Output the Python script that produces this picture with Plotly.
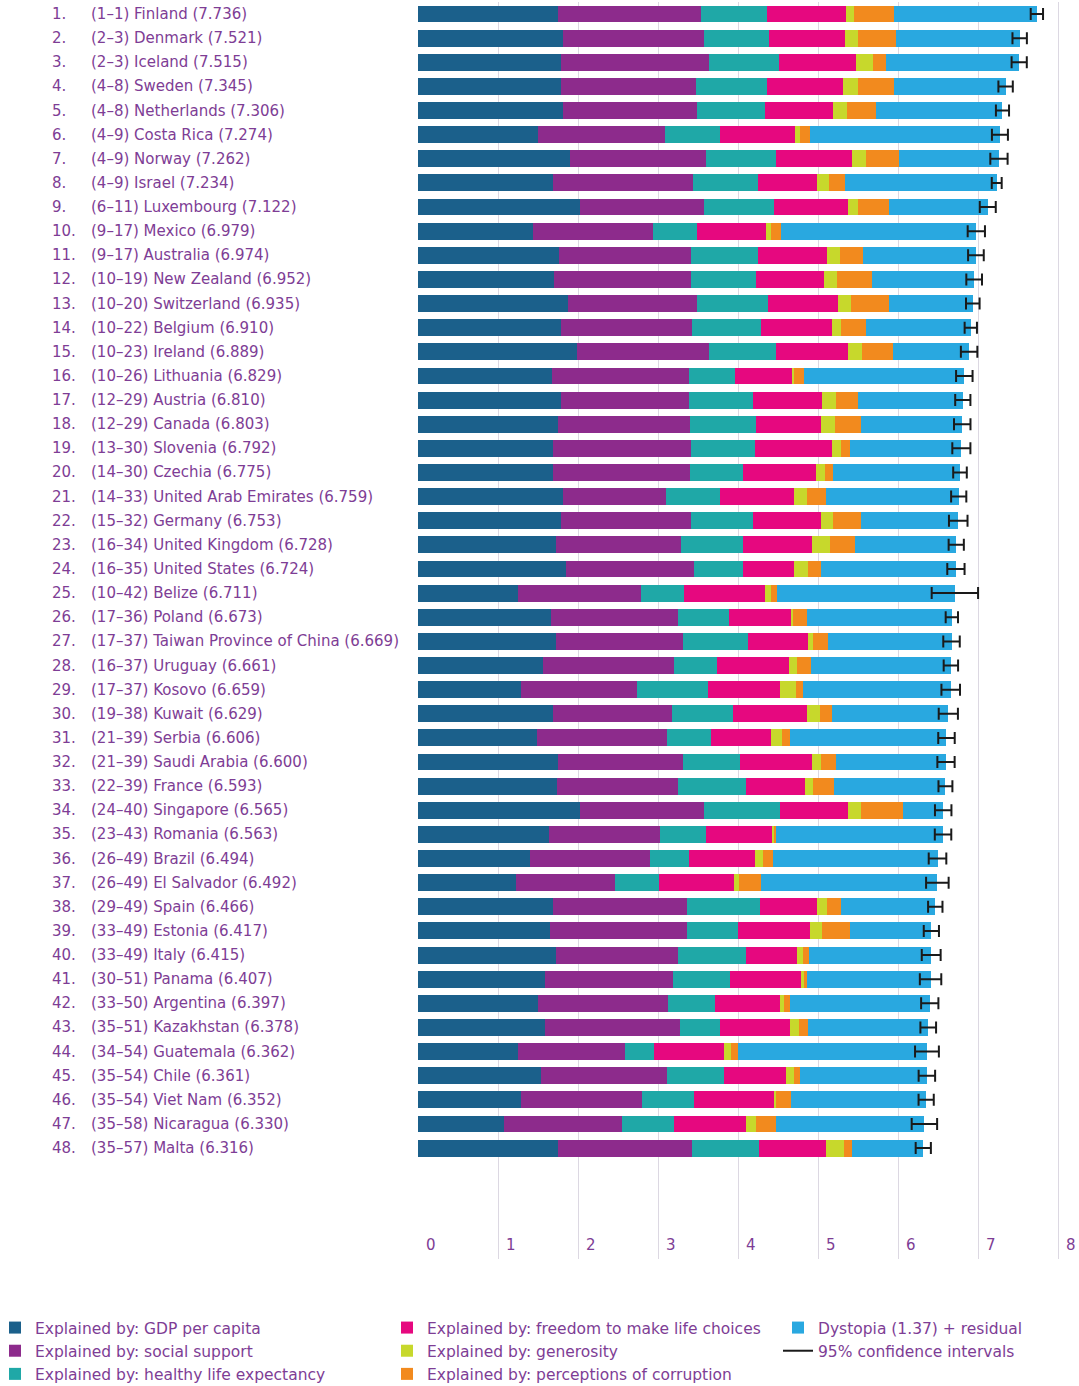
import plotly.graph_objects as go

countries = ["Finland", "Denmark", "Iceland", "Sweden", "Netherlands", "Costa Rica", "Norway", "Israel",
             "Luxembourg", "Mexico", "Australia", "New Zealand", "Switzerland", "Belgium", "Ireland", "Lithuania",
             "Austria", "Canada", "Slovenia", "Czechia", "United Arab Emirates", "Germany", "United Kingdom",
             "United States", "Belize", "Poland", "Taiwan Province of China", "Uruguay", "Kosovo", "Kuwait",
             "Serbia", "Saudi Arabia", "France", "Singapore", "Romania", "Brazil", "El Salvador", "Spain",
             "Estonia", "Italy", "Panama", "Argentina", "Kazakhstan", "Guatemala", "Chile", "Viet Nam",
             "Nicaragua", "Malta"]
rank_ranges = ["1–1", "2–3", "2–3", "4–8", "4–8", "4–9", "4–9", "4–9", "6–11", "9–17", "9–17", "10–19",
               "10–20", "10–22", "10–23", "10–26", "12–29", "12–29", "13–30", "14–30", "14–33", "15–32",
               "16–34", "16–35", "10–42", "17–36", "17–37", "16–37", "17–37", "19–38", "21–39", "21–39",
               "22–39", "24–40", "23–43", "26–49", "26–49", "29–49", "33–49", "33–49", "30–51", "33–50",
               "35–51", "34–54", "35–54", "35–54", "35–58", "35–57"]
scores = [7.736, 7.521, 7.515, 7.345, 7.306, 7.274, 7.262, 7.234, 7.122, 6.979, 6.974, 6.952, 6.935, 6.910,
          6.889, 6.829, 6.810, 6.803, 6.792, 6.775, 6.759, 6.753, 6.728, 6.724, 6.711, 6.673, 6.669, 6.661,
          6.659, 6.629, 6.606, 6.600, 6.593, 6.565, 6.563, 6.494, 6.492, 6.466, 6.417, 6.415, 6.407, 6.397,
          6.378, 6.362, 6.361, 6.352, 6.330, 6.316]

gdp = [1.756, 1.818, 1.792, 1.782, 1.818, 1.500, 1.905, 1.685, 2.024, 1.433, 1.762, 1.695, 1.870, 1.782,
       1.988, 1.680, 1.782, 1.746, 1.685, 1.685, 1.808, 1.782, 1.721, 1.844, 1.253, 1.664, 1.731, 1.561,
       1.284, 1.685, 1.489, 1.746, 1.736, 2.024, 1.638, 1.402, 1.222, 1.685, 1.649, 1.721, 1.587, 1.505,
       1.582, 1.248, 1.536, 1.284, 1.079, 1.751]
social = [1.782, 1.762, 1.844, 1.695, 1.669, 1.592, 1.700, 1.751, 1.556, 1.505, 1.649, 1.715, 1.618, 1.644,
          1.654, 1.705, 1.602, 1.654, 1.726, 1.715, 1.289, 1.633, 1.572, 1.602, 1.531, 1.582, 1.587, 1.644,
          1.448, 1.484, 1.618, 1.561, 1.520, 1.556, 1.392, 1.500, 1.238, 1.680, 1.710, 1.531, 1.597, 1.623,
          1.695, 1.335, 1.572, 1.520, 1.474, 1.669]
health = [0.822, 0.806, 0.873, 0.889, 0.853, 0.678, 0.873, 0.817, 0.868, 0.550, 0.837, 0.811, 0.889, 0.858,
          0.827, 0.580, 0.801, 0.827, 0.806, 0.663, 0.673, 0.770, 0.770, 0.616, 0.539, 0.647, 0.811, 0.534,
          0.899, 0.770, 0.550, 0.719, 0.842, 0.940, 0.570, 0.488, 0.550, 0.909, 0.647, 0.853, 0.719, 0.580,
          0.498, 0.370, 0.719, 0.642, 0.647, 0.837]
freedom = [0.986, 0.955, 0.971, 0.950, 0.842, 0.940, 0.950, 0.740, 0.930, 0.863, 0.863, 0.858, 0.873, 0.889,
           0.909, 0.704, 0.868, 0.806, 0.955, 0.914, 0.924, 0.858, 0.868, 0.632, 1.012, 0.776, 0.750, 0.904,
           0.889, 0.924, 0.760, 0.904, 0.740, 0.858, 0.837, 0.827, 0.945, 0.719, 0.899, 0.632, 0.883, 0.822,
           0.873, 0.878, 0.770, 1.002, 0.899, 0.837]
generosity = [0.108, 0.154, 0.205, 0.180, 0.185, 0.067, 0.169, 0.144, 0.118, 0.056, 0.159, 0.159, 0.164, 0.113,
              0.169, 0.026, 0.169, 0.175, 0.118, 0.108, 0.169, 0.139, 0.216, 0.180, 0.072, 0.015, 0.062, 0.092,
              0.200, 0.164, 0.139, 0.113, 0.103, 0.164, 0.015, 0.092, 0.062, 0.118, 0.139, 0.077, 0.036, 0.041,
              0.118, 0.077, 0.098, 0.031, 0.123, 0.231]
corruption = [0.498, 0.483, 0.164, 0.457, 0.354, 0.123, 0.421, 0.200, 0.395, 0.128, 0.288, 0.442, 0.473, 0.308,
              0.385, 0.134, 0.282, 0.324, 0.113, 0.098, 0.231, 0.360, 0.318, 0.159, 0.082, 0.180, 0.190, 0.180,
              0.092, 0.149, 0.092, 0.180, 0.262, 0.519, 0.026, 0.123, 0.267, 0.180, 0.360, 0.077, 0.041, 0.082,
              0.108, 0.087, 0.082, 0.185, 0.257, 0.103]
dystopia = [1.784, 1.543, 1.666, 1.392, 1.585, 2.374, 1.244, 1.897, 1.231, 2.444, 1.416, 1.272, 1.048, 1.316,
            0.957, 2.000, 1.306, 1.271, 1.389, 1.592, 1.665, 1.211, 1.263, 1.691, 2.222, 1.809, 1.538, 1.746,
            1.847, 1.453, 1.958, 1.377, 1.390, 0.504, 2.085, 2.062, 2.208, 1.175, 1.013, 1.524, 1.544, 1.744,
            1.504, 2.367, 1.584, 1.688, 1.851, 0.888]
ci_half = [0.077, 0.090, 0.095, 0.090, 0.082, 0.100, 0.108, 0.062, 0.100, 0.108, 0.098, 0.098, 0.085, 0.077,
           0.103, 0.103, 0.095, 0.103, 0.113, 0.085, 0.095, 0.116, 0.095, 0.108, 0.290, 0.077, 0.103, 0.090,
           0.116, 0.120, 0.103, 0.108, 0.087, 0.103, 0.103, 0.110, 0.141, 0.090, 0.095, 0.118, 0.134, 0.108,
           0.098, 0.149, 0.103, 0.095, 0.159, 0.095]

x_tick_vals = [0, 1, 2, 3, 4, 5, 6, 7, 8]
x_tick_text = ["0", "1", "2", "3", "4", "5", "6", "7", "8"]

series = [
    ("Explained by: GDP per capita", gdp, "#1b608b", "legend"),
    ("Explained by: social support", social, "#8d2b8c", "legend"),
    ("Explained by: healthy life expectancy", health, "#1fa8a7", "legend"),
    ("Explained by: freedom to make life choices", freedom, "#e6087f", "legend2"),
    ("Explained by: generosity", generosity, "#c7d82c", "legend2"),
    ("Explained by: perceptions of corruption", corruption, "#f28a1e", "legend2"),
    ("Dystopia (1.37) + residual", dystopia, "#29a8e0", "legend3"),
]

TEXT = "#7e3d95"
FONT = "DejaVu Sans"
rows = list(range(len(countries)))

fig = go.Figure()
for name, vals, color, lg in series:
    fig.add_trace(go.Bar(
        x=vals, y=rows, orientation="h", name=name, width=0.7,
        marker=dict(color=color, line=dict(width=0)),
        legend=lg, legendgroup=name, showlegend=True, hoverinfo="skip",
    ))

fig.add_trace(go.Scatter(
    x=scores, y=rows, mode="markers", marker=dict(size=1, opacity=0),
    error_x=dict(type="data", array=ci_half, symmetric=True, color="#1a1a1a", thickness=2, width=6),
    showlegend=False, hoverinfo="skip",
))
fig.add_trace(go.Scatter(
    x=[None], y=[None], mode="lines", line=dict(color="#1a1a1a", width=2),
    name="95% confidence intervals", legend="legend3", legendgroup="ci",
))

# plot area in page pixels
PL, PW = 418, 661          # 80 px per unit on x
PT, PH = 2, 1257           # top / height
ROW0, PITCH = 14, 24.13    # centre of first row, row spacing


def px_x(p):
    return (p - PL) / PW


def px_y(p):
    return (PT + PH - p) / PH


y_top = (PT - ROW0) / PITCH
y_bot = (PT + PH - ROW0) / PITCH

annotations = []
for i, (c, rr, s) in enumerate(zip(countries, rank_ranges, scores)):
    annotations.append(dict(x=px_x(50), y=i, xref="paper", yref="y", text=f"{i + 1}.",
                            showarrow=False, xanchor="left", yanchor="middle",
                            font=dict(family=FONT, size=15, color=TEXT)))
    annotations.append(dict(x=px_x(89), y=i, xref="paper", yref="y", text=f"({rr}) {c} ({s:.3f})",
                            showarrow=False, xanchor="left", yanchor="middle",
                            font=dict(family=FONT, size=15, color=TEXT)))

leg_common = dict(orientation="v", yanchor="top", xanchor="left", bgcolor="rgba(0,0,0,0)",
                  borderwidth=0, font=dict(family=FONT, size=15.5, color=TEXT),
                  traceorder="grouped", tracegroupgap=0, itemwidth=30)

fig.update_layout(
    width=1079, height=1386,
    margin=dict(l=PL, r=0, t=PT, b=1386 - PT - PH, autoexpand=False),
    paper_bgcolor="white", plot_bgcolor="white",
    barmode="stack", bargap=0.3,
    font=dict(family=FONT, size=15, color=TEXT),
    xaxis=dict(range=[0, PW / 80.0], tickvals=x_tick_vals, ticktext=x_tick_text, showgrid=True,
               gridcolor="#dcd8e2", gridwidth=1, zeroline=False, showline=False, ticks="",
               ticklabelposition="inside right", ticklabelshift=8,
               tickfont=dict(family=FONT, size=15, color=TEXT), fixedrange=True),
    yaxis=dict(range=[y_bot, y_top], showticklabels=False, showgrid=False,
               zeroline=False, showline=False, ticks="", fixedrange=True),
    legend=dict(x=px_x(-5), y=px_y(1311), **leg_common),
    legend2=dict(x=px_x(387), y=px_y(1311), **leg_common),
    legend3=dict(x=px_x(778), y=px_y(1311), **leg_common),
    annotations=annotations,
    showlegend=True,
)

fig.write_html("out.html", config={"displayModeBar": False},
               post_script="document.body.style.margin='0px';")
